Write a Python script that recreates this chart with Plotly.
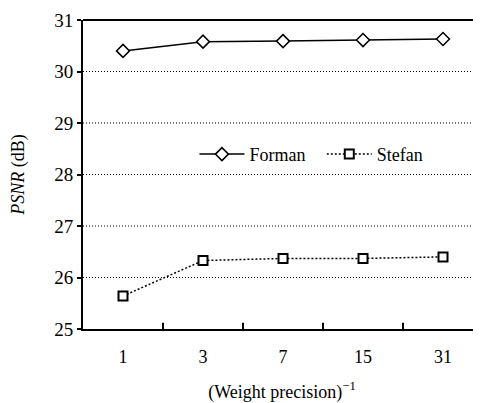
import plotly.graph_objects as go

categories = ["1", "3", "7", "15", "31"]
forman = [30.40, 30.58, 30.59, 30.61, 30.63]
stefan = [25.64, 26.33, 26.37, 26.37, 26.40]
y_ticks = [25, 26, 27, 28, 29, 30, 31]

FONT = "Times New Roman"
xpos = list(range(len(categories)))

fig = go.Figure()
fig.add_trace(go.Scatter(
    x=xpos, y=forman, name="Forman", mode="lines+markers", legend="legend",
    line=dict(color="black", width=1.5),
    marker=dict(symbol="diamond", size=10, color="white", line=dict(color="black", width=1.5)),
))
fig.add_trace(go.Scatter(
    x=xpos, y=stefan, name="Stefan", mode="lines+markers", legend="legend2",
    line=dict(color="black", width=1.5, dash="2px,2px"),
    marker=dict(symbol="square", size=9, color="white", line=dict(color="black", width=2)),
))

# dotted gridlines at inner y ticks
for v in y_ticks[1:-1]:
    fig.add_shape(type="line", xref="paper", x0=0, x1=1, yref="y", y0=v, y1=v,
                  line=dict(color="black", width=1, dash="1px,2px"), layer="below")
# top border
fig.add_shape(type="line", xref="paper", x0=0, x1=1, yref="paper", y0=1, y1=1,
              line=dict(color="black", width=2))

leg_common = dict(orientation="h", y=0.565, xanchor="left", yanchor="middle",
                  bgcolor="rgba(0,0,0,0)", itemwidth=45,
                  font=dict(size=18, family=FONT, color="black"))

fig.update_layout(
    width=473, height=395,
    margin=dict(l=75, r=0, t=12, b=74),
    paper_bgcolor="white", plot_bgcolor="white",
    font=dict(family=FONT, size=17, color="black"),
    showlegend=True,
    legend=dict(x=0.28, **leg_common),
    legend2=dict(x=0.60, **leg_common),
    xaxis=dict(
        range=[-0.5, 4.475], tickmode="array", tickvals=xpos, ticktext=categories,
        showgrid=False, zeroline=False, showline=True, linecolor="black", linewidth=2,
        ticks="", tickfont=dict(size=18, family=FONT, color="black"), ticklabelstandoff=10,
        title=dict(text="(Weight precision)<sup>−1</sup>",
                   font=dict(size=18, family=FONT, color="black"), standoff=20),
    ),
    yaxis=dict(
        range=[25, 31], tickmode="array", tickvals=y_ticks,
        showgrid=False, zeroline=False, showline=True, linecolor="black", linewidth=2,
        ticks="outside", ticklen=4, tickwidth=1.5, tickcolor="black",
        tickfont=dict(size=19, family=FONT, color="black"),
        title=dict(text="<i>PSNR</i> (dB)",
                   font=dict(size=18, family=FONT, color="black"), standoff=26),
    ),
)

# x-axis boundary ticks (inside, between categories)
for b in [0.5, 1.5, 2.5, 3.5]:
    fig.add_shape(type="line", xref="x", x0=b, x1=b, yref="paper", y0=0, y1=0.02,
                  line=dict(color="black", width=2))

fig.write_html("out.html")
